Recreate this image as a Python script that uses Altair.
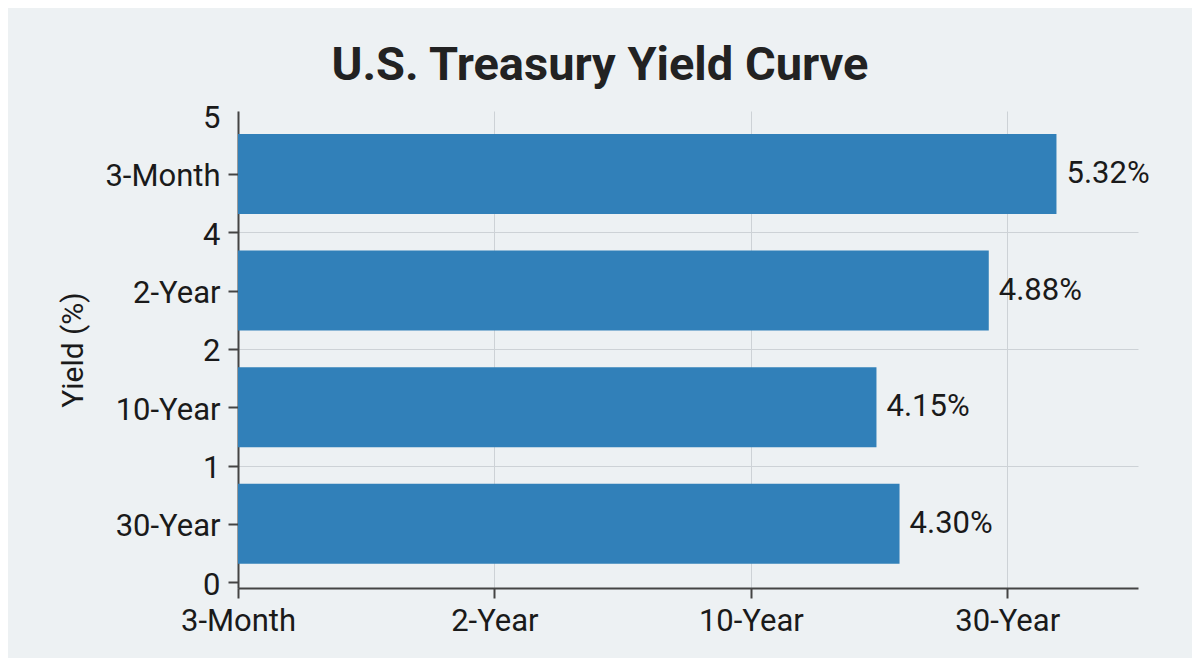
import altair as alt
import pandas as pd

# Treasury yields per maturity
maturities = ["3-Month", "2-Year", "10-Year", "30-Year"]
yields = [5.32, 4.88, 4.15, 4.30]

# tick labels on the y axis (bottom to top) and on the x axis
y_tick_labels = ["0", "1", "2", "4", "5"]
x_tick_labels = ["3-Month", "2-Year", "10-Year", "30-Year"]

FONT = "Roboto"
BAR_COLOR = "#3180b9"
BG = "#edf1f3"
INK = "#1a1a1a"

df = pd.DataFrame({"maturity": maturities, "yield": yields})
# rows stacked from the top: first maturity sits highest
df["pos"] = [len(maturities) - 1 - i + 0.5 for i in range(len(maturities))]

# y axis mixes numeric ticks (at whole steps) and maturity names (at half steps)
y_values = []
y_names = {}
for i, lab in enumerate(y_tick_labels):
    y_values.append(float(i))
    y_names[f"{float(i):.1f}"] = lab
for i, row in df.iterrows():
    y_values.append(row["pos"])
    y_names[f"{row['pos']:.1f}"] = row["maturity"]
y_values.sort()
y_label_expr = "{" + ", ".join(f"'{k}': '{v}'" for k, v in y_names.items()) + "}"
y_label_expr = "(" + y_label_expr + ")[format(datum.value, '.1f')]"

x_step = 5 / 3
x_values = [i * x_step for i in range(len(x_tick_labels))]
x_label_expr = (
    "[" + ", ".join(f"'{v}'" for v in x_tick_labels) + "][round(datum.value / "
    + str(x_step) + ")]"
)

x_axis = alt.Axis(
    values=x_values,
    labelExpr=x_label_expr,
    grid=True,
    labelFlush=False,
    labelPadding=8,
)
y_axis = alt.Axis(
    values=y_values,
    labelExpr=y_label_expr,
    grid=True,
    gridOpacity={"condition": {"test": "datum.value == 1 || datum.value == 2 || datum.value == 3", "value": 1}, "value": 0},
    tickOpacity={"condition": {"test": "datum.value == 4", "value": 0}, "value": 1},
    labelFlush=False,
    labelOffset=3,
    labelPadding=8,
    titlePadding=16,
    titleFontSize=30,
    titleFontWeight="normal",
    titleColor=INK,
    titleFont=FONT,
)

y_scale = alt.Scale(domain=[-0.05, 4.04], nice=False, zero=False)
x_enc = alt.X("yield:Q", axis=x_axis, title=None,
              scale=alt.Scale(domain=[0, 5.85], nice=False, zero=True))
y_enc = alt.Y("pos:Q", axis=y_axis, title="Yield (%)", scale=y_scale)

base = alt.Chart(df).transform_calculate(
    lo="datum.pos - 0.343",
    hi="datum.pos + 0.343",
    zero="0",
    label="format(datum.yield, '.2f') + '%'",
)

bars = base.mark_rect(color=BAR_COLOR).encode(
    x=x_enc,
    x2="zero:Q",
    y=alt.Y("lo:Q", axis=y_axis, title="Yield (%)", scale=y_scale),
    y2="hi:Q",
)

labels = base.mark_text(
    align="left", baseline="middle", dx=10, fontSize=31, font=FONT, color=INK
).encode(
    x=x_enc,
    y=y_enc,
    text="label:N",
)

chart = alt.layer(bars, labels).properties(
    width=900,
    height=477,
    autosize=alt.AutoSizeParams(type="none"),
    padding={"left": 230, "top": 103, "right": 54, "bottom": 70},
    background=BG,
    title=alt.TitleParams(
        "U.S. Treasury Yield Curve",
        font=FONT,
        fontSize=47,
        fontWeight="bold",
        color="#222222",
        anchor="middle",
        frame="group",
        dx=-88,
        offset=13,
    ),
).configure_view(
    strokeWidth=0
).configure_axis(
    labelFont=FONT,
    labelFontSize=31,
    labelColor=INK,
    domainColor="#444444",
    domainWidth=2,
    tickColor="#444444",
    tickWidth=2,
    tickSize=10,
    gridColor="#cdd2d6",
    gridWidth=1,
)

chart.save("out.html", embed_options={"renderer": "svg", "actions": False})
